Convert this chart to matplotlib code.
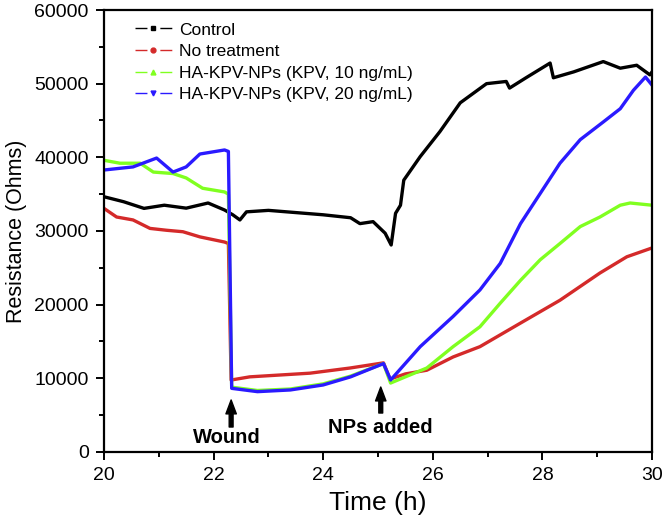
import matplotlib.pyplot as plt
from matplotlib.lines import Line2D

plt.rcParams['font.family'] = ['Liberation Sans', 'DejaVu Sans']

# time points (h) and resistance (Ohms)
t_control = [20.0, 20.36, 20.73, 21.1, 21.5, 21.9, 22.2, 22.35, 22.48, 22.6, 23.0, 23.5,
             24.0, 24.5, 24.67, 24.91, 25.13, 25.24, 25.32, 25.41, 25.47, 25.77, 26.13,
             26.5, 26.74, 26.98, 27.34, 27.4, 27.7, 28.14, 28.2, 28.57, 29.11, 29.42,
             29.72, 29.96, 30.0]
r_control = [34650, 33970, 33070, 33500, 33100, 33800, 32850, 32200, 31500, 32600, 32800, 32500,
             32200, 31800, 31000, 31270, 29700, 28100, 32400, 33500, 36900, 40100, 43500,
             47400, 48700, 50000, 50300, 49400, 50800, 52800, 50800, 51600, 53000, 52100,
             52500, 51200, 51600]

t_none = [20.0, 20.23, 20.53, 20.84, 21.14, 21.44, 21.75, 22.2, 22.27, 22.32, 22.66, 23.76,
          24.49, 25.1, 25.22, 25.5, 25.89, 26.37, 26.86, 27.6, 28.32, 29.05, 29.54, 30.0]
r_none = [33070, 31900, 31500, 30350, 30100, 29900, 29200, 28500, 28300, 9770, 10200, 10700,
          11400, 12100, 9900, 10600, 11100, 12900, 14300, 17500, 20600, 24300, 26500, 27700]

t_10 = [20.0, 20.29, 20.66, 20.9, 21.26, 21.5, 21.8, 22.2, 22.27, 22.33, 22.8, 23.4, 24.0,
        24.5, 25.1, 25.23, 25.5, 25.89, 26.37, 26.86, 27.23, 27.6, 27.96, 28.32, 28.69,
        29.05, 29.42, 29.6, 30.0]
r_10 = [39600, 39200, 39200, 38000, 37800, 37200, 35800, 35300, 35000, 8800, 8350, 8550,
        9250, 10300, 12000, 9360, 10200, 11400, 14300, 17000, 20200, 23300, 26100, 28300,
        30600, 31900, 33500, 33800, 33500]

t_20 = [20.0, 20.53, 20.96, 21.26, 21.5, 21.75, 22.2, 22.27, 22.33, 22.8, 23.4, 24.0, 24.5,
        25.1, 25.23, 25.77, 26.37, 26.86, 27.23, 27.6, 27.96, 28.32, 28.69, 29.11, 29.42,
        29.66, 29.88, 30.0]
r_20 = [38280, 38700, 39900, 38000, 38700, 40450, 41000, 40800, 8640, 8190, 8420, 9100,
        10200, 12000, 9770, 14300, 18400, 22000, 25600, 31000, 35100, 39200, 42400, 44800,
        46600, 49100, 50900, 49800]

labels = ['Control', 'No treatment', 'HA-KPV-NPs (KPV, 10 ng/mL)', 'HA-KPV-NPs (KPV, 20 ng/mL)']
colors = ['black', '#d42a2a', '#80ff20', '#2a1aff']
markers = ['s', 'o', '^', 'v']

fig = plt.figure(figsize=(6.64, 5.32), dpi=100)
ax = fig.add_axes([0.1566, 0.1504, 0.8254, 0.8308])

series = [(t_control, r_control), (t_none, r_none), (t_10, r_10), (t_20, r_20)]
for (t, r), c in zip(series, colors):
    ax.plot(t, r, color=c, lw=2.4, solid_joinstyle='round')

ax.set_xlim(20, 30)
ax.set_ylim(0, 60000)
ax.set_xticks(range(20, 31, 2))
ax.set_xticks(range(21, 30, 2), minor=True)
ax.set_yticks(range(0, 60001, 10000))
ax.set_yticks(range(5000, 60000, 10000), minor=True)
ax.tick_params(axis='both', which='major', direction='out', length=6, width=1.4, labelsize=14, pad=5)
ax.tick_params(axis='both', which='minor', direction='out', length=3.5, width=1.4)
for s in ax.spines.values():
    s.set_linewidth(1.6)

ax.set_xlabel('Time (h)', fontsize=19, labelpad=5)
ax.set_ylabel('Resistance (Ohms)', fontsize=15.5, labelpad=5)

# arrows for events
arrow = dict(facecolor='black', edgecolor='black', width=2.8, headwidth=7.5, headlength=10)
ax.annotate('', xy=(22.32, 7060), xytext=(22.32, 3390), arrowprops=arrow)
ax.text(22.25, 1900, 'Wound', ha='center', va='center', fontsize=14.5, fontweight='bold')
ax.annotate('', xy=(25.05, 8820), xytext=(25.05, 5290), arrowprops=arrow)
ax.text(25.05, 3260, 'NPs added', ha='center', va='center', fontsize=14.5, fontweight='bold')

handles = [Line2D([], [], color=c, lw=1.0, linestyle=(0, (8.6, 9.3)), marker=m, markersize=3.5)
           for c, m in zip(colors, markers)]
ax.legend(handles, labels, loc='upper left', bbox_to_anchor=(0.0566, 0.972), frameon=False,
          fontsize=12.5, handlelength=2.13, labelspacing=0.37, handletextpad=0.4,
          borderaxespad=0, borderpad=0)

fig.savefig('out.png', dpi=100)
